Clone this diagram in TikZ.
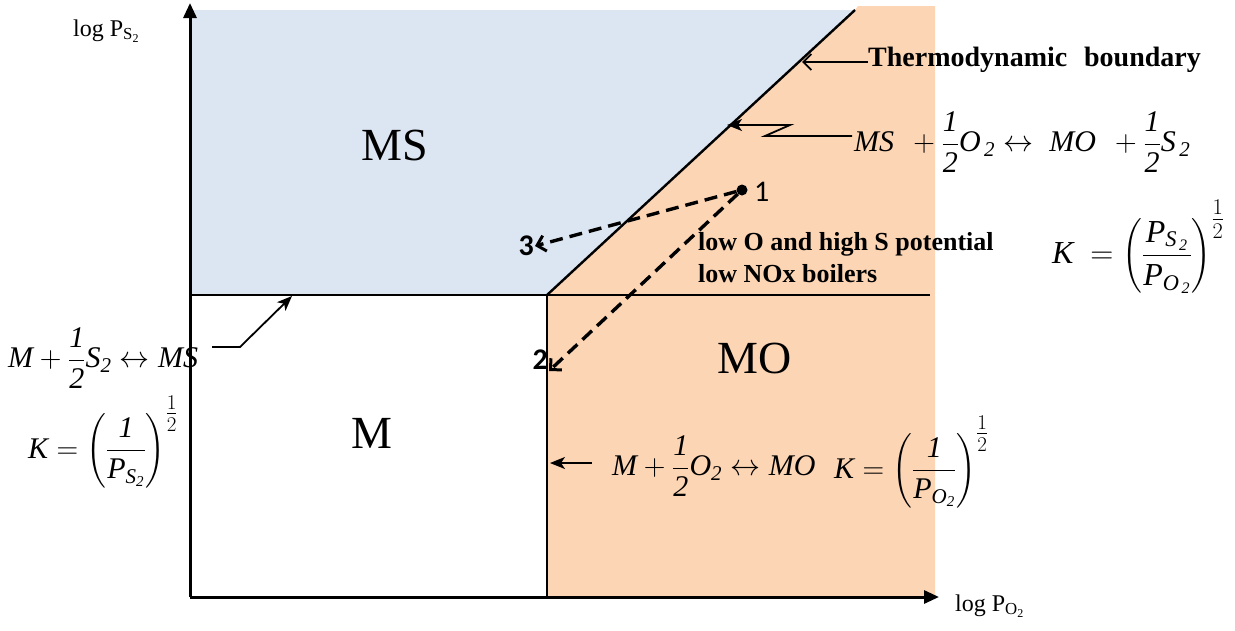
\RequirePackage{fix-cm}
\documentclass[tikz,border=0pt]{standalone}
\usepackage{amsmath}
\usepackage{fontspec}
\setmainfont{Liberation Serif}
\newfontfamily\calib{Carlito}
\usetikzlibrary{arrows.meta}
\definecolor{msblue}{RGB}{220,230,242}
\definecolor{moorange}{RGB}{252,213,181}
\tikzset{
  bnd/.style={line width=2.4pt, line join=miter},
  axisline/.style={line width=3pt, -{Triangle[length=15pt,width=13pt]}},
  annot/.style={line width=1.8pt},
  annotarrow/.style={annot, -{Stealth[length=15pt,width=12pt,inset=4pt]}},
  dashln/.style={line width=3.4pt, dash pattern=on 13pt off 7pt, -{Straight Barb[length=8pt,width=16pt,line width=3pt]}},
  big/.style={font=\fontsize{46}{50}\selectfont, inner sep=0pt},
  eq/.style={font=\fontsize{30}{34}\selectfont, inner sep=2pt},
  axlab/.style={font=\fontsize{24}{26}\selectfont, inner sep=0pt},
  ptlab/.style={font=\calib\fontsize{30}{32}\selectfont, inner sep=1pt},
  ptlabb/.style={font=\calib\bfseries\fontsize{30}{32}\selectfont, inner sep=1pt},
  note/.style={font=\bfseries\fontsize{26}{32}\selectfont, align=left, inner sep=0pt},
}
\begin{document}
\begin{tikzpicture}[x=1pt,y=-1pt]
\useasboundingbox (0,0) rectangle (1235,630);
% regions
\fill[msblue] (190,10) -- (855,10) -- (547,295) -- (190,295) -- cycle;
\fill[moorange] (547,597) -- (547,295) -- (855,10) -- (858,6) -- (935,6) -- (935,597) -- cycle;
% coordinates
\coordinate (O) at (190,597);
\coordinate (ytop) at (190,3);
\coordinate (xend) at (939,597);
\coordinate (tp) at (547,295);
\coordinate (hl) at (190,295);
\coordinate (hr) at (930,295);
\coordinate (diag) at (855,10);
\coordinate (vb) at (547,597);
% boundaries
\draw[bnd] (hl) -- (hr);
\draw[bnd] (tp) -- (vb);
\draw[bnd] (tp) -- (diag);
% axes
\draw[axisline] (O) -- (ytop);
\draw[axisline] (O) -- (xend);
% axis labels
\node[axlab, anchor=west] (ylab) at (73,31) {log P$_{\mathrm{S}_{\mathrm{2}}}$};
\node[axlab, anchor=west] (xlab) at (955,606) {log P$_{\mathrm{O}_{\mathrm{2}}}$};
% region labels
\node[big] (MS) at (395,145) {MS};
\node[big] (M) at (372,433) {M};
\node[big] (MO) at (755,358) {MO};
% thermodynamic boundary
\node[font=\bfseries\fontsize{28}{32}\selectfont, anchor=west, inner sep=0pt] (thermo) at (868,60) {Thermodynamic\hspace{0.35em} boundary};
\coordinate (tb1) at (802,62);
\draw[annot, -{Straight Barb[length=8pt,width=16pt,line width=1.8pt]}] (thermo.west |- tb1) -- (tb1);
% right reaction
\node[eq, anchor=west] (eqR) at (852,142) {$\mathit{MS}\ \,+\dfrac{\mathit{1}}{\mathit{2}}\mathit{O}_{\,\mathit{2}}\leftrightarrow\ \mathit{MO}\ \,+\dfrac{\mathit{1}}{\mathit{2}}\mathit{S}_{\,\mathit{2}}$};
\coordinate (zz0) at (852,136);
\coordinate (zz1) at (765,136);
\coordinate (zz2) at (790,125);
\coordinate (tb2) at (727,125);
\draw[annotarrow] (eqR.west |- zz0) -- (zz1) -- (zz2) -- (tb2);
\node[eq, font=\fontsize{32}{36}\selectfont, anchor=west] (kR) at (1050,247) {$\mathit{K}\ =\left(\dfrac{\mathit{P}_{\mathit{S}_{\,\mathit{2}}}}{\mathit{P}_{\mathit{O}_{\,\mathit{2}}}}\right)^{\textstyle\frac{1}{2}}$};
% points
\node[circle, fill, inner sep=0pt, minimum size=11pt] (p1) at (742,190) {};
\node[ptlab, anchor=west] (n1) at (753,192) {1};
\node[ptlabb, anchor=east] (n3) at (535,246) {3};
\node[ptlabb, anchor=south east] (n2) at (549,371) {2};
\draw[dashln] (p1) -- (n3.east);
\draw[dashln] (p1) -- (n2.south east);
\node[note, anchor=north west] (note) at (698,232) {low O and high S potential\\low NOx boilers};
% left reaction
\node[eq, anchor=west] (eqL) at (6,358) {$\mathit{M}+\dfrac{\mathit{1}}{\mathit{2}}\mathit{S}_{\mathit{2}}\leftrightarrow\mathit{MS}$};
\coordinate (la0) at (212,347);
\coordinate (la1) at (240,347);
\coordinate (la2) at (292,296);
\draw[annotarrow] (la0) -- (la1) -- (la2);
\node[eq, anchor=west] (kL) at (26,442) {$\mathit{K}=\left(\dfrac{\mathit{1}}{\mathit{P}_{\mathit{S}_{\mathit{2}}}}\right)^{\textstyle\frac{1}{2}}$};
% bottom reaction
\node[eq, anchor=west] (eqB) at (610,466) {$\mathit{M}+\dfrac{\mathit{1}}{\mathit{2}}\mathit{O}_{\mathit{2}}\leftrightarrow\mathit{MO}$};
\coordinate (ba0) at (592,463);
\coordinate (ba) at (550,463);
\draw[annotarrow] (ba0) -- (ba);
\node[eq, anchor=west] (kB) at (832,462) {$\mathit{K}=\left(\dfrac{\mathit{1}}{\mathit{P}_{\mathit{O}_{\mathit{2}}}}\right)^{\textstyle\frac{1}{2}}$};
\end{tikzpicture}
\end{document}
